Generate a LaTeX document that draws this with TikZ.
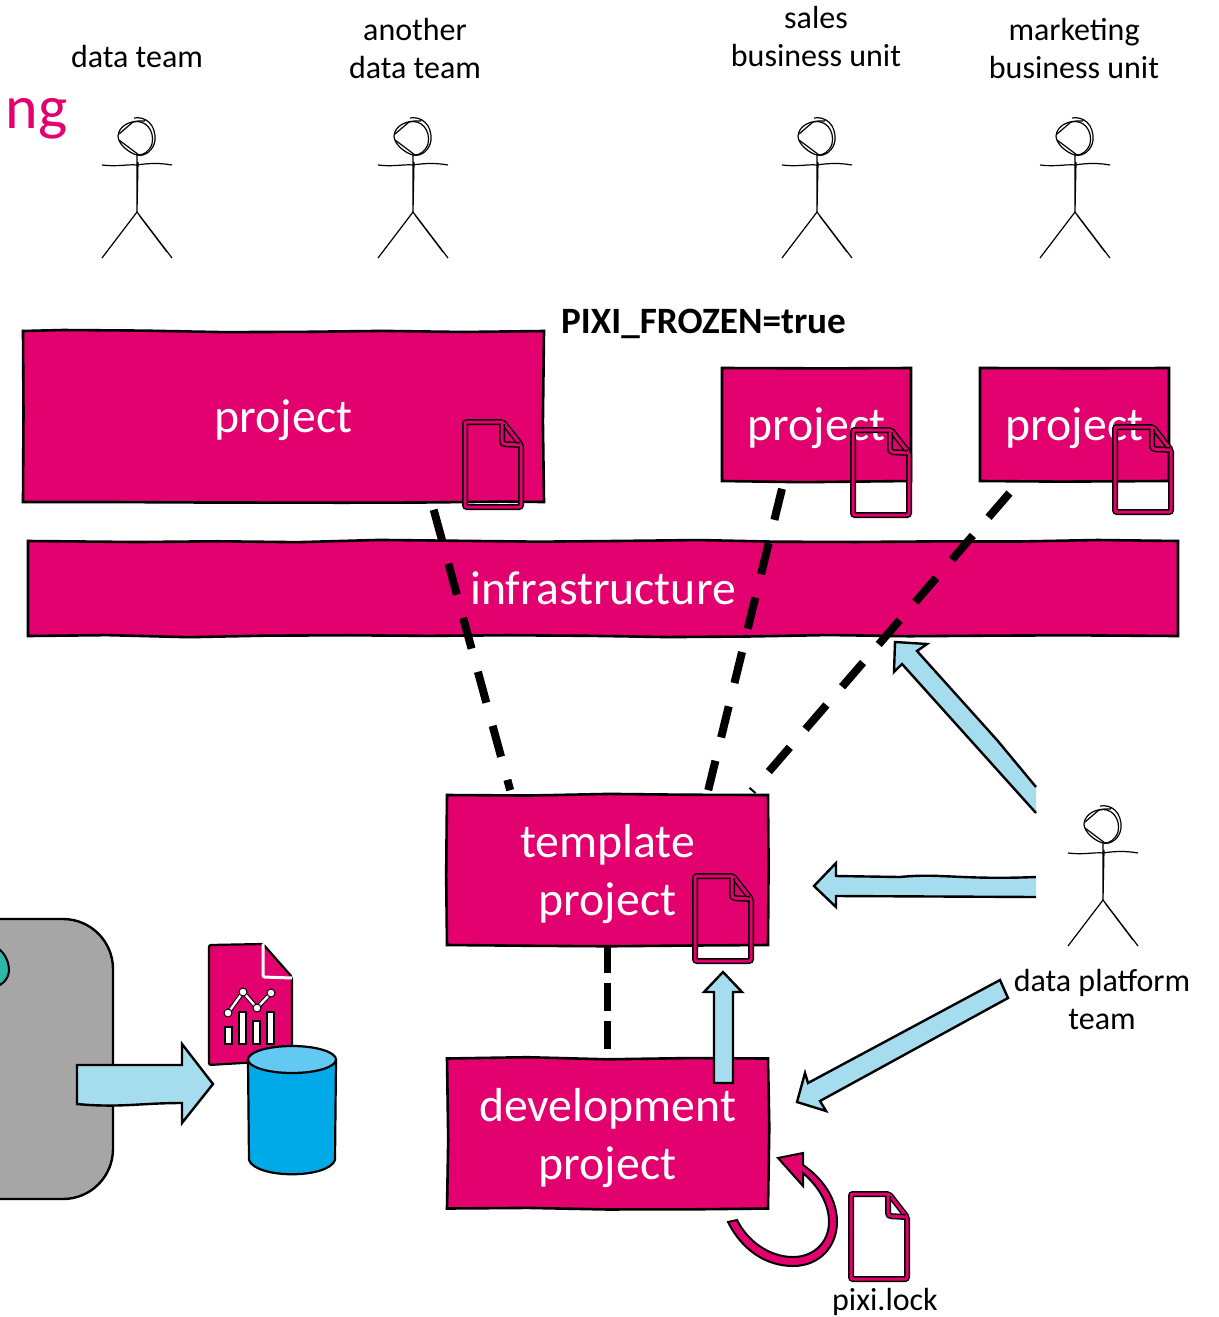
\documentclass[tikz,border=0pt]{standalone}
\usepackage{xcolor}
\usepackage{fontspec}
\setmainfont{Carlito}
\usetikzlibrary{decorations.pathmorphing}

\definecolor{pixipink}{HTML}{E3006F}
\definecolor{pixisky}{HTML}{A5DDEF}
\definecolor{pixiblue}{HTML}{00A9E8}
\definecolor{pixitop}{HTML}{62C9F2}
\definecolor{pixigray}{HTML}{A6A6A6}
\definecolor{pixiteal}{HTML}{2DB9A9}

\tikzset{
  stickman/.pic={
    \draw [line width=1.2pt] (-3,-94) .. controls (8,-96) and (19,-88) .. (18,-72) .. controls (17,-62) and (8,-55) .. (0,-57) .. controls (-8,-59) and (-19,-68) .. (-19,-76) .. controls (-18,-86) and (-8,-92) .. (8,-91);
    \draw [line width=1.2pt] (-18,-78) -- (-4,-90) .. controls (8,-93) and (18,-82) .. (15,-68) .. controls (12,-60) and (6,-57) .. (2,-57) -- (-18,-72);
    \draw [line width=1.2pt] (-35,-47) .. controls (-20,-45) and (-8,-48) .. (0,-47) .. controls (12,-49) and (24,-49) .. (35,-47);
    \draw [line width=1.2pt] (0,-57) -- (0,0) (1,-50) -- (0,0);
    \draw [line width=1.2pt] (-35,46) -- (0,0) -- (35,46) (2,3) -- (30,40);
  },
  pagefile/.pic={
    \draw [line width=1.5pt, double=pixipink, double distance=3pt, rounded corners=2pt] (0,0) -- (38,0) -- (56,23) -- (56,85) -- (0,85) -- cycle;
    \draw [line width=1.5pt, double=pixipink, double distance=3pt, rounded corners=3pt] (37,2) -- (37,22) -- (55,23);
  }
}

\begin{document}
\begin{tikzpicture}[x=1pt, y=-1pt]
    % Define the style for the nodes
    \tikzstyle{main} = [rectangle, draw=black, line width=2.6pt, fill=pixipink, text=white, align=center, inner sep=0pt, outer sep=0pt, font=\fontsize{47.7}{58}\selectfont, decorate, decoration={random steps, segment length=80pt, amplitude=1.4pt}]
    \tikzstyle{label} = [align=center, inner sep=0pt, font=\fontsize{32}{38}\selectfont]
    \tikzstyle{line} = [draw, line width=8pt, dash pattern=on 32pt off 24pt, shorten <=8pt, shorten >=5pt]
    \tikzstyle{block} = [draw=black, line width=2.4pt, fill=pixisky, line join=miter]

    \pgfmathsetseed{11}
    \useasboundingbox (0,0) rectangle (1218,1317);

    % Place the nodes
    \node [main, minimum width=521pt, minimum height=171pt] (wide) at (283.5,416.5) {\rule{0pt}{40pt}project};
    \node [main, minimum width=189pt, minimum height=113pt] (sales) at (816.5,424.5) {\rule{0pt}{40pt}project};
    \node [main, minimum width=189pt, minimum height=113pt, right of=sales, node distance=258pt] (market) {\rule{0pt}{40pt}project};
    \node [main, minimum width=1150pt, minimum height=95pt] (infra) at (603,588.5) {infrastructure};
    \node [main, minimum width=321pt, minimum height=150pt] (tmpl) at (607.5,870) {\rule{0pt}{42pt}template\\project};
    \node [main, minimum width=321pt, minimum height=150pt, below of=tmpl, node distance=263.5pt] (dev) {\rule{0pt}{42pt}development\\project};

    % Title rest and team names
    \node [anchor=base east, inner sep=0pt, text=pixipink, font=\fontsize{62}{62}\selectfont] (title) at (68,128) {i\kern4pt ng};
    \node [label] (team1) at (137,56.5) {data team};
    \node [label] (team2) at (415,48.5) {another\\data team};
    \node [label] (team3) at (816,36.5) {sales\\business unit};
    \node [label] (team4) at (1074,48.5) {marketing\\business unit};
    \node [label] (team5) at (1102,999.5) {data platform\\team};
    \node [label] (lockname) at (885,1302) {pixi.lock};
    \node [anchor=west, inner sep=0pt, font=\fontsize{37.2}{40}\selectfont\bfseries] (frozen) at (561,324) {PIXI\_FROZEN=true};

    % Stick figures
    \pic at (137,212) {stickman};
    \pic at (413,212) {stickman};
    \pic at (817,212) {stickman};
    \pic at (1075,212) {stickman};
    \pic at (1103,900) {stickman};

    % Connect the nodes with dashed paths
    \path [line] (wide.-30) -- (tmpl.142.4);
    \path [line] (sales.-120.7) -- (tmpl.37);
    \path [line, shorten <=16pt] (market.-134) -- (tmpl.28.6);
    \path [line, line width=7pt, dash pattern=on 28pt off 10pt, shorten <=0pt, shorten >=0pt] (tmpl.south) -- (dev.north);

    % Platform team arrows
    \path [block] (1036,787) -- (997,740) -- (917,651) -- (927,644) -- (895,642) -- (894,672) -- (902,664) -- (1036,813);
    \path [block] (1036,877) .. controls (960,880) and (940,873) .. (900,877) -- (836,876) -- (836,863) -- (814,886) -- (836,907) -- (836,896) -- (1036,897);
    \path [block] (1000,980) -- (808,1083) -- (805,1073) -- (797,1102) -- (826,1111) -- (820,1101) -- (1008,998) -- cycle;
    \path [block] (714,1083) -- (714,992) -- (704,992) -- (723,972) -- (742,992) -- (733,992) -- (733,1083) -- cycle;

    % Lock file loop
    \path [draw=black, line width=2pt, fill=pixipink] (728,1222) .. controls (742,1250) and (766,1266) .. (793,1266) .. controls (820,1266) and (837,1246) .. (837,1222) .. controls (837,1198) and (822,1178) .. (803,1165) -- (803,1153) -- (778,1158) -- (803,1186) -- (803,1173) .. controls (818,1186) and (829,1203) .. (829,1222) .. controls (829,1242) and (814,1257) .. (793,1257) .. controls (770,1257) and (748,1242) .. (737,1220) -- cycle;

    % Source box on the left
    \draw [line width=2.4pt, fill=pixigray, rounded corners=50pt] (-80,919) -- (113,919) -- (113,1199) -- (-80,1199) -- cycle;
    \draw [line width=2pt, fill=pixiteal] (-12,945) .. controls (0,945) and (9,958) .. (9,970) .. controls (9,980) and (0,988) .. (-12,988) -- cycle;
    \path [block] (77,1065) -- (182,1065) -- (182,1044) -- (213,1084) -- (182,1123) -- (182,1103) .. controls (140,1103) and (120,1108) .. (77,1104) -- cycle;

    % Report and data store
    \draw [line width=2.2pt, fill=pixipink, rounded corners=2pt] (209,945) -- (263,944) -- (292,977) -- (292,1060) -- (209,1065) -- cycle;
    \draw [white, line width=3pt, rounded corners=2pt] (263,944) -- (263,977) -- (292,978);
    \foreach \xa/\ya in {225/1027, 239/1012, 253/1021, 267/1012}
        \draw [fill=white, line width=1.2pt] (\xa,\ya) rectangle (\xa+7,1044);
    \draw [black, line width=4.4pt] (228,1013) -- (243,992) -- (257,1008) -- (271,993);
    \draw [white, line width=2.4pt] (228,1013) -- (243,992) -- (257,1008) -- (271,993);
    \foreach \xa/\ya in {228/1013, 243/992, 257/1008, 271/993}
        \draw [fill=white, line width=1pt] (\xa,\ya) circle (4pt);
    \draw [line width=2.2pt, fill=pixiblue] (248,1060) -- (249,1160) .. controls (256,1179) and (328,1179) .. (335,1160) -- (336,1060) -- cycle;
    \draw [line width=2.2pt, fill=pixitop] (292,1059.5) ellipse (44pt and 13.5pt);

    % Document icons
    \pic at (465,422) {pagefile};
    \pic at (853,430) {pagefile};
    \pic at (1115,427) {pagefile};
    \pic at (695,876) {pagefile};
    \pic at (851,1194) {pagefile};

\end{tikzpicture}
\end{document}
